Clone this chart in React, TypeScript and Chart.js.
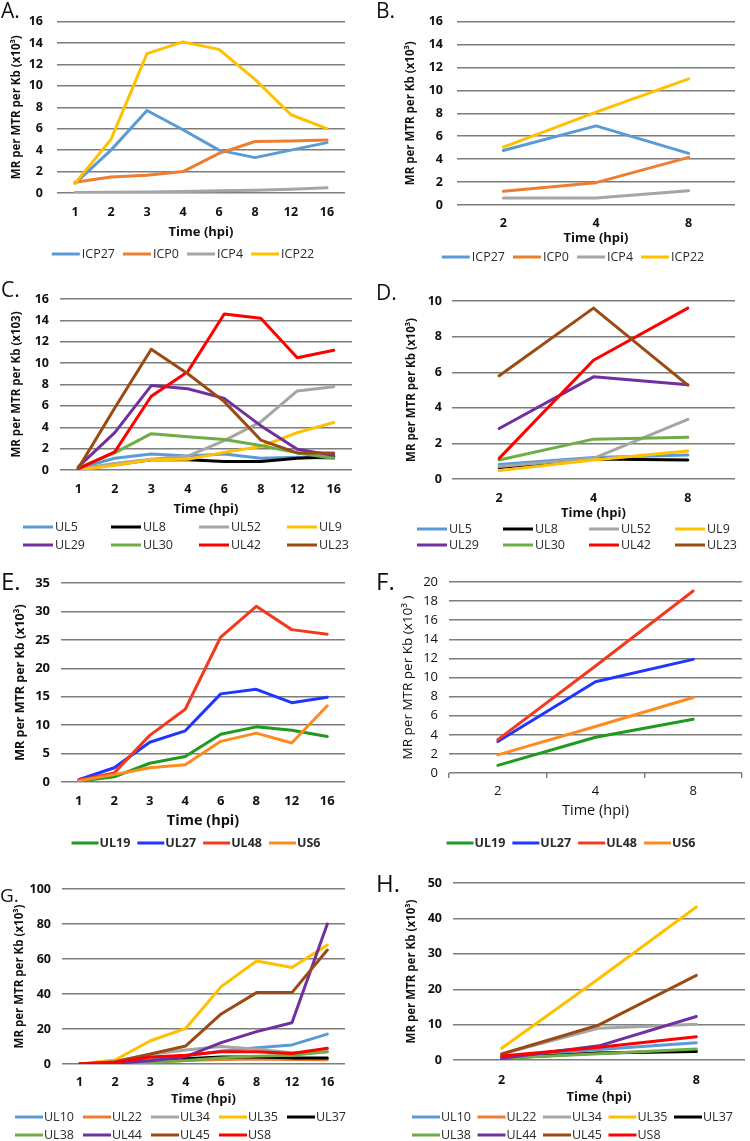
import React, { useEffect, useRef } from "react";
import { Chart, registerables } from "chart.js";
Chart.register(...registerables);

const FAMILY = "'Open Sans', 'DejaVu Sans', sans-serif";

// ---------- categories ----------
const hpiLong = ["1", "2", "3", "4", "6", "8", "12", "16"];
const hpiShort = ["2", "4", "8"];

// ---------- Panel A (ICP genes, 1-16 hpi) ----------
const aICP27 = [0.9, 4.0, 7.7, 5.9, 4.0, 3.3, 4.0, 4.7];
const aICP0 = [1.0, 1.5, 1.65, 2.0, 3.7, 4.8, 4.85, 4.95];
const aICP4 = [0.05, 0.08, 0.1, 0.15, 0.2, 0.25, 0.35, 0.5];
const aICP22 = [0.9, 5.0, 13.0, 14.1, 13.4, 10.6, 7.3, 6.0];

// ---------- Panel B (ICP genes, 2/4/8 hpi) ----------
const bICP27 = [4.75, 6.9, 4.5];
const bICP0 = [1.2, 1.95, 4.15];
const bICP4 = [0.6, 0.6, 1.25];
const bICP22 = [5.05, 8.1, 11.0];

// ---------- Panel C ----------
const cUL5 = [0.15, 1.1, 1.5, 1.3, 1.5, 1.1, 1.2, 1.1];
const cUL8 = [0.1, 0.5, 0.95, 0.95, 0.8, 0.8, 1.1, 1.25];
const cUL52 = [0.1, 0.6, 1.0, 1.3, 2.75, 4.5, 7.4, 7.8];
const cUL9 = [0.0, 0.45, 0.95, 1.0, 1.65, 2.2, 3.5, 4.45];
const cUL29 = [0.3, 3.5, 7.9, 7.6, 6.7, 4.15, 1.95, 1.35];
const cUL30 = [0.2, 1.6, 3.4, 3.1, 2.85, 2.3, 1.6, 1.1];
const cUL42 = [0.1, 1.7, 6.9, 9.2, 14.6, 14.2, 10.5, 11.2];
const cUL23 = [0.15, 5.8, 11.3, 9.0, 6.4, 2.8, 1.6, 1.6];

// ---------- Panel D ----------
const dUL5 = [0.82, 1.21, 1.35];
const dUL8 = [0.64, 1.12, 1.07];
const dUL52 = [0.7, 1.16, 3.35];
const dUL9 = [0.47, 1.07, 1.57];
const dUL29 = [2.84, 5.74, 5.3];
const dUL30 = [1.07, 2.24, 2.34];
const dUL42 = [1.16, 6.67, 9.6];
const dUL23 = [5.8, 9.6, 5.27];

// ---------- Panel E ----------
const eUL19 = [0.15, 0.9, 3.3, 4.5, 8.4, 9.7, 9.1, 8.0];
const eUL27 = [0.4, 2.5, 7.0, 9.0, 15.5, 16.3, 13.95, 14.9];
const eUL48 = [0.3, 1.6, 8.2, 12.8, 25.5, 30.9, 26.8, 26.0];
const eUS6 = [0.2, 1.3, 2.5, 3.05, 7.15, 8.6, 6.85, 13.4];

// ---------- Panel F ----------
const fUL19 = [0.8, 3.75, 5.63];
const fUL27 = [3.3, 9.55, 11.9];
const fUL48 = [3.5, 11.2, 19.06];
const fUS6 = [1.9, 4.87, 7.9];

// ---------- Panel G ----------
const gUL10 = [0, 0.5, 2.5, 4.5, 7.5, 9.3, 10.9, 17.1];
const gUL22 = [0, 0.3, 1.0, 2.0, 2.5, 2.8, 2.5, 2.5];
const gUL34 = [0, 1.5, 5.5, 8.0, 10.0, 8.5, 6.5, 7.0];
const gUL35 = [0, 2.3, 13.3, 20.4, 44.2, 58.9, 55.2, 68.0];
const gUL37 = [0, 0.5, 1.5, 3.0, 4.0, 4.0, 3.5, 3.5];
const gUL38 = [0, 0.3, 1.0, 2.0, 3.5, 4.5, 5.0, 7.0];
const gUL44 = [0, 0.4, 1.9, 4.2, 12.2, 18.5, 23.6, 80.0];
const gUL45 = [0, 1.3, 5.7, 10.3, 28.6, 40.8, 40.8, 65.1];
const gUS8 = [0, 1.0, 4.0, 5.0, 7.0, 7.0, 6.0, 9.0];

// ---------- Panel H ----------
const hUL10 = [1.0, 3.0, 4.9];
const hUL22 = [0.6, 2.0, 2.6];
const hUL34 = [1.7, 9.0, 10.1];
const hUL35 = [3.3, 23.0, 43.2];
const hUL37 = [0.5, 2.0, 2.4];
const hUL38 = [0.5, 1.8, 3.1];
const hUL44 = [0.5, 4.0, 12.3];
const hUL45 = [1.7, 9.9, 23.9];
const hUS8 = [1.1, 3.6, 6.6];

// ---------- colours ----------
const C_BLUE = "#5B9BD5";
const C_ORANGE = "#ED7D31";
const C_GRAY = "#A5A5A5";
const C_YELLOW = "#FFC000";
const C_BLACK = "#000000";
const C_PURPLE = "#7030A0";
const C_GREEN = "#70AD47";
const C_RED = "#FF0000";
const C_BROWN = "#9C4A14";
const E_GREEN = "#1E9B1E";
const E_BLUE = "#1F36FF";
const E_RED = "#F23A1E";
const E_ORANGE = "#FF8A1E";

type Series = { label: string; data: number[]; color: string };

const seriesA: Series[] = [
  { label: "ICP27", data: aICP27, color: C_BLUE },
  { label: "ICP0", data: aICP0, color: C_ORANGE },
  { label: "ICP4", data: aICP4, color: C_GRAY },
  { label: "ICP22", data: aICP22, color: C_YELLOW },
];
const seriesB: Series[] = [
  { label: "ICP27", data: bICP27, color: C_BLUE },
  { label: "ICP0", data: bICP0, color: C_ORANGE },
  { label: "ICP4", data: bICP4, color: C_GRAY },
  { label: "ICP22", data: bICP22, color: C_YELLOW },
];
const seriesC: Series[] = [
  { label: "UL5", data: cUL5, color: C_BLUE },
  { label: "UL8", data: cUL8, color: C_BLACK },
  { label: "UL52", data: cUL52, color: C_GRAY },
  { label: "UL9", data: cUL9, color: C_YELLOW },
  { label: "UL29", data: cUL29, color: C_PURPLE },
  { label: "UL30", data: cUL30, color: C_GREEN },
  { label: "UL42", data: cUL42, color: C_RED },
  { label: "UL23", data: cUL23, color: C_BROWN },
];
const seriesD: Series[] = [
  { label: "UL5", data: dUL5, color: C_BLUE },
  { label: "UL8", data: dUL8, color: C_BLACK },
  { label: "UL52", data: dUL52, color: C_GRAY },
  { label: "UL9", data: dUL9, color: C_YELLOW },
  { label: "UL29", data: dUL29, color: C_PURPLE },
  { label: "UL30", data: dUL30, color: C_GREEN },
  { label: "UL42", data: dUL42, color: C_RED },
  { label: "UL23", data: dUL23, color: C_BROWN },
];
const seriesE: Series[] = [
  { label: "UL19", data: eUL19, color: E_GREEN },
  { label: "UL27", data: eUL27, color: E_BLUE },
  { label: "UL48", data: eUL48, color: E_RED },
  { label: "US6", data: eUS6, color: E_ORANGE },
];
const seriesF: Series[] = [
  { label: "UL19", data: fUL19, color: E_GREEN },
  { label: "UL27", data: fUL27, color: E_BLUE },
  { label: "UL48", data: fUL48, color: E_RED },
  { label: "US6", data: fUS6, color: E_ORANGE },
];
const seriesG: Series[] = [
  { label: "UL10", data: gUL10, color: C_BLUE },
  { label: "UL22", data: gUL22, color: C_ORANGE },
  { label: "UL34", data: gUL34, color: C_GRAY },
  { label: "UL35", data: gUL35, color: C_YELLOW },
  { label: "UL37", data: gUL37, color: C_BLACK },
  { label: "UL38", data: gUL38, color: C_GREEN },
  { label: "UL44", data: gUL44, color: C_PURPLE },
  { label: "UL45", data: gUL45, color: C_BROWN },
  { label: "US8", data: gUS8, color: C_RED },
];
const seriesH: Series[] = [
  { label: "UL10", data: hUL10, color: C_BLUE },
  { label: "UL22", data: hUL22, color: C_ORANGE },
  { label: "UL34", data: hUL34, color: C_GRAY },
  { label: "UL35", data: hUL35, color: C_YELLOW },
  { label: "UL37", data: hUL37, color: C_BLACK },
  { label: "UL38", data: hUL38, color: C_GREEN },
  { label: "UL44", data: hUL44, color: C_PURPLE },
  { label: "UL45", data: hUL45, color: C_BROWN },
  { label: "US8", data: hUS8, color: C_RED },
];

// ---------- layout / style configuration ----------
type Font = { size: number; weight: string };
type LegendCfg =
  | { mode: "flow"; cx: number; cy: number; lineLen: number; gap: number; spacing: number; font: Font }
  | { mode: "grid"; x0: number; y0: number; colW: number; rowH: number; cols: number; lineLen: number; gap: number; font: Font };

type PanelCfg = {
  letter: string;
  letterX: number;
  letterBase: number;
  letterSize: number;
  x: number;
  y: number;
  w: number;
  h: number;
  plot: { l: number; r: number; t: number; b: number };
  yMax: number;
  yStep: number;
  tickRight: number;
  tickY: number;
  titleY: number;
  yTitleX: number;
  tickFont: Font;
  xTitleFont: Font;
  yTitleFont: Font;
  yTitle: string;
  xTicks: boolean;
  legend: LegendCfg;
};

const SUP = "MR per MTR per Kb (x10\u00B3)";
const bold = (size: number): Font => ({ size, weight: "bold" });
const normal = (size: number): Font => ({ size, weight: "normal" });

const panelA: PanelCfg = {
  letter: "A.", letterX: 1, letterBase: 19, letterSize: 21,
  x: 0, y: 0, w: 375, h: 278,
  plot: { l: 57, r: 345, t: 10, b: 193 },
  yMax: 16, yStep: 2, tickRight: 43, tickY: 212, titleY: 232, yTitleX: 17,
  tickFont: bold(12.5), xTitleFont: bold(13), yTitleFont: bold(11.5), yTitle: SUP, xTicks: false,
  legend: { mode: "flow", cx: 183, cy: 254, lineLen: 28, gap: 2, spacing: 8, font: normal(12.5) },
};
const panelB: PanelCfg = {
  letter: "B.", letterX: 376, letterBase: 19, letterSize: 21,
  x: 375, y: 0, w: 375, h: 278,
  plot: { l: 457, r: 735, t: 10, b: 205 },
  yMax: 16, yStep: 2, tickRight: 443, tickY: 223, titleY: 238, yTitleX: 411,
  tickFont: bold(12.5), xTitleFont: bold(13), yTitleFont: bold(11.5), yTitle: SUP, xTicks: false,
  legend: { mode: "flow", cx: 573, cy: 257, lineLen: 28, gap: 2, spacing: 8, font: normal(12.5) },
};
const panelC: PanelCfg = {
  letter: "C.", letterX: 1, letterBase: 298, letterSize: 21,
  x: 0, y: 278, w: 375, h: 282,
  plot: { l: 60, r: 352, t: 299, b: 470 },
  yMax: 16, yStep: 2, tickRight: 49, tickY: 489, titleY: 509, yTitleX: 17,
  tickFont: bold(12.5), xTitleFont: bold(13), yTitleFont: bold(11.5), yTitle: "MR per MTR per Kb (x103)", xTicks: false,
  legend: { mode: "grid", x0: 23, y0: 527, colW: 88, rowH: 18, cols: 4, lineLen: 30, gap: 2, font: normal(12.5) },
};
const panelD: PanelCfg = {
  letter: "D.", letterX: 376, letterBase: 301, letterSize: 21,
  x: 375, y: 278, w: 375, h: 282,
  plot: { l: 452, r: 735, t: 301, b: 479 },
  yMax: 10, yStep: 2, tickRight: 442, tickY: 498, titleY: 513, yTitleX: 412,
  tickFont: bold(12.5), xTitleFont: bold(13), yTitleFont: bold(11.5), yTitle: SUP, xTicks: false,
  legend: { mode: "grid", x0: 417, y0: 529, colW: 86, rowH: 16, cols: 4, lineLen: 30, gap: 2, font: normal(12.5) },
};
const panelE: PanelCfg = {
  letter: "E.", letterX: 1, letterBase: 590, letterSize: 24,
  x: 0, y: 560, w: 375, h: 295,
  plot: { l: 61, r: 345, t: 583, b: 782 },
  yMax: 35, yStep: 5, tickRight: 50, tickY: 801, titleY: 821, yTitleX: 20,
  tickFont: bold(13), xTitleFont: bold(14.5), yTitleFont: bold(12.5), yTitle: SUP, xTicks: false,
  legend: { mode: "flow", cx: 196, cy: 843, lineLen: 27, gap: 1, spacing: 7, font: bold(12.5) },
};
const panelF: PanelCfg = {
  letter: "F.", letterX: 376, letterBase: 590, letterSize: 24,
  x: 375, y: 560, w: 375, h: 295,
  plot: { l: 449, r: 742, t: 582, b: 773 },
  yMax: 20, yStep: 2, tickRight: 438, tickY: 791, titleY: 811, yTitleX: 408,
  tickFont: normal(13), xTitleFont: normal(14.5), yTitleFont: normal(13.5), yTitle: "MR per MTR per Kb (x10\u00B3 )", xTicks: true,
  legend: { mode: "flow", cx: 571, cy: 843, lineLen: 27, gap: 1, spacing: 7, font: bold(12.5) },
};
const panelG: PanelCfg = {
  letter: "G.", letterX: 0, letterBase: 903, letterSize: 19,
  x: 0, y: 855, w: 375, h: 286,
  plot: { l: 62, r: 345, t: 889, b: 1064 },
  yMax: 100, yStep: 20, tickRight: 51, tickY: 1082, titleY: 1099, yTitleX: 20,
  tickFont: bold(12.5), xTitleFont: bold(13), yTitleFont: bold(11.5), yTitle: SUP, xTicks: false,
  legend: { mode: "grid", x0: 15, y0: 1117, colW: 68, rowH: 18, cols: 5, lineLen: 28, gap: 1, font: normal(12.5) },
};
const panelH: PanelCfg = {
  letter: "H.", letterX: 376, letterBase: 892, letterSize: 24,
  x: 375, y: 855, w: 375, h: 286,
  plot: { l: 453, r: 745, t: 883, b: 1060 },
  yMax: 50, yStep: 10, tickRight: 442, tickY: 1080, titleY: 1097, yTitleX: 412,
  tickFont: bold(12.5), xTitleFont: bold(13), yTitleFont: bold(11.5), yTitle: SUP, xTicks: false,
  legend: { mode: "grid", x0: 412, y0: 1117, colW: 65.5, rowH: 18, cols: 5, lineLen: 28, gap: 1, font: normal(12.5) },
};

const GRID_COLOR = "#7d7d7d";
const TEXT_COLOR = "#111111";

function buildConfig(p: PanelCfg, labels: string[], series: Series[]): any {
  const plotL = p.plot.l - p.x;
  const plotR = p.plot.r - p.x;
  const plotT = p.plot.t - p.y;
  const plotB = p.plot.b - p.y;
  const tickLH = p.tickFont.size * 1.2;
  const xTitleLH = p.xTitleFont.size * 1.2;
  const yTitleLH = p.yTitleFont.size * 1.2;
  const tl = p.xTicks ? 5 : 0;
  const xTickPad = p.tickY - p.plot.b - tl - tickLH / 2;
  const xAxisH = p.titleY - p.plot.b + xTitleLH / 2;
  const padBottom = p.h - (plotB + xAxisH);
  const n = series.length;

  const legendPlugin = {
    id: "panelLegend",
    afterDraw(chart: any) {
      const L = p.legend;
      const ctx = chart.ctx as CanvasRenderingContext2D;
      ctx.save();
      ctx.font = `${L.font.weight} ${L.font.size}px ${FAMILY}`;
      ctx.textBaseline = "middle";
      ctx.textAlign = "left";
      const items = chart.data.datasets.map((d: any) => ({ text: d.label as string, color: d.borderColor as string }));
      const pos: [number, number][] = [];
      if (L.mode === "flow") {
        const widths = items.map((it: any) => L.lineLen + L.gap + ctx.measureText(it.text).width);
        const total = widths.reduce((a: number, b: number) => a + b, 0) + L.spacing * (items.length - 1);
        let x = L.cx - p.x - total / 2;
        items.forEach((_: any, i: number) => {
          pos.push([x, L.cy - p.y]);
          x += widths[i] + L.spacing;
        });
      } else {
        items.forEach((_: any, i: number) => {
          pos.push([L.x0 - p.x + (i % L.cols) * L.colW, L.y0 - p.y + Math.floor(i / L.cols) * L.rowH]);
        });
      }
      items.forEach((it: any, i: number) => {
        const [x, y] = pos[i];
        ctx.strokeStyle = it.color;
        ctx.lineWidth = 3;
        ctx.lineCap = "butt";
        ctx.beginPath();
        ctx.moveTo(x, y);
        ctx.lineTo(x + L.lineLen, y);
        ctx.stroke();
        ctx.fillStyle = "#2a2a2a";
        ctx.fillText(it.text, x + L.lineLen + L.gap, y + 0.5);
      });
      ctx.restore();
    },
  };

  return {
    type: "line",
    data: {
      labels,
      datasets: series.map((s, i) => ({
        label: s.label,
        data: s.data,
        borderColor: s.color,
        backgroundColor: s.color,
        borderWidth: 3,
        pointRadius: 0,
        pointHoverRadius: 0,
        tension: 0,
        fill: false,
        borderJoinStyle: "round",
        borderCapStyle: "round",
        order: n - i,
      })),
    },
    options: {
      responsive: false,
      maintainAspectRatio: false,
      animation: false,
      events: [],
      layout: { padding: { left: 0, top: plotT, right: p.w - plotR, bottom: padBottom } },
      plugins: { legend: { display: false }, tooltip: { enabled: false }, title: { display: false } },
      scales: {
        x: {
          type: "category",
          offset: true,
          grid: {
            display: p.xTicks,
            drawOnChartArea: false,
            drawTicks: p.xTicks,
            tickLength: 5,
            offset: true,
            color: GRID_COLOR,
            lineWidth: 1.4,
          },
          border: { display: false },
          ticks: {
            autoSkip: false,
            maxRotation: 0,
            minRotation: 0,
            padding: xTickPad,
            color: TEXT_COLOR,
            font: { family: FAMILY, size: p.tickFont.size, weight: p.tickFont.weight, lineHeight: 1.2 },
          },
          title: {
            display: true,
            text: "Time (hpi)",
            color: TEXT_COLOR,
            padding: { top: 0, bottom: 0 },
            font: { family: FAMILY, size: p.xTitleFont.size, weight: p.xTitleFont.weight, lineHeight: 1.2 },
          },
          afterFit(scale: any) {
            scale.height = xAxisH;
          },
        },
        y: {
          type: "linear",
          min: 0,
          max: p.yMax,
          grid: { color: GRID_COLOR, lineWidth: 1.4, drawTicks: false },
          border: { display: false },
          ticks: {
            stepSize: p.yStep,
            padding: p.plot.l - p.tickRight,
            color: TEXT_COLOR,
            font: { family: FAMILY, size: p.tickFont.size, weight: p.tickFont.weight, lineHeight: 1.2 },
          },
          title: {
            display: true,
            text: p.yTitle,
            color: TEXT_COLOR,
            padding: { top: p.yTitleX - p.x - yTitleLH / 2, bottom: 0 },
            font: { family: FAMILY, size: p.yTitleFont.size, weight: p.yTitleFont.weight, lineHeight: 1.2 },
          },
          afterFit(scale: any) {
            scale.width = plotL;
          },
        },
      },
    },
    plugins: [legendPlugin],
  };
}

function Panel({ cfg, labels, series }: { cfg: PanelCfg; labels: string[]; series: Series[] }) {
  const ref = useRef<HTMLCanvasElement>(null);
  useEffect(() => {
    if (!ref.current) return;
    const chart = new Chart(ref.current, buildConfig(cfg, labels, series));
    return () => chart.destroy();
  }, [cfg, labels, series]);
  return (
    <>
      <canvas
        ref={ref}
        width={cfg.w}
        height={cfg.h}
        style={{ position: "absolute", left: cfg.x, top: cfg.y, width: cfg.w, height: cfg.h }}
      />
      <div
        style={{
          position: "absolute",
          left: cfg.letterX,
          top: cfg.letterBase - 0.888 * cfg.letterSize,
          fontFamily: FAMILY,
          fontSize: cfg.letterSize,
          lineHeight: 1,
          color: "#111",
          whiteSpace: "nowrap",
        }}
      >
        {cfg.letter}
      </div>
    </>
  );
}

export default function App() {
  return (
    <div style={{ position: "absolute", left: 0, top: 0, width: 750, height: 1141, background: "#fff", overflow: "hidden" }}>
      <Panel cfg={panelA} labels={hpiLong} series={seriesA} />
      <Panel cfg={panelB} labels={hpiShort} series={seriesB} />
      <Panel cfg={panelC} labels={hpiLong} series={seriesC} />
      <Panel cfg={panelD} labels={hpiShort} series={seriesD} />
      <Panel cfg={panelE} labels={hpiLong} series={seriesE} />
      <Panel cfg={panelF} labels={hpiShort} series={seriesF} />
      <Panel cfg={panelG} labels={hpiLong} series={seriesG} />
      <Panel cfg={panelH} labels={hpiShort} series={seriesH} />
    </div>
  );
}
